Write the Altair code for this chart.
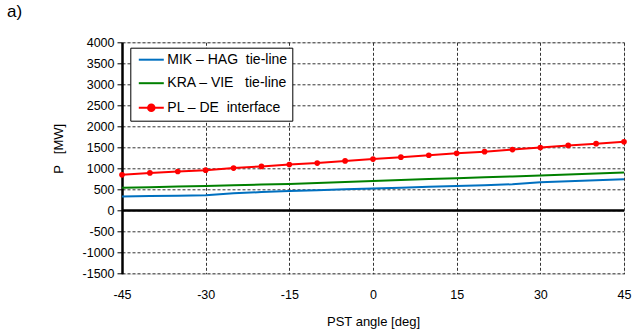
import altair as alt
import pandas as pd

angles = [-45, -40, -35, -30, -25, -20, -15, -10, -5, 0, 5, 10, 15, 20, 25, 30, 35, 40, 45]
mik_hag = [333, 345, 355, 366, 413, 440, 468, 486, 505, 523, 545, 566, 587, 605, 625, 675, 700, 723, 746]
kra_vie = [540, 555, 570, 587, 603, 618, 634, 658, 682, 706, 727, 749, 770, 791, 811, 832, 856, 880, 903]
pl_de = [850, 895, 930, 960, 1010, 1050, 1095, 1130, 1180, 1225, 1270, 1315, 1360, 1400, 1450, 1500, 1550, 1590, 1635]

series_names = ["MIK \u2013 HAG\u00a0 tie-line", "KRA \u2013 VIE\u00a0\u00a0 tie-line", "PL \u2013 DE\u00a0 interface"]
series_colors = ["#0070C0", "#008000", "#FF0000"]
x_ticks = [-45, -30, -15, 0, 15, 30, 45]
y_ticks = [-1500, -1000, -500, 0, 500, 1000, 1500, 2000, 2500, 3000, 3500, 4000]

rows = []
for name, vals in zip(series_names, [mik_hag, kra_vie, pl_de]):
    for a, v in zip(angles, vals):
        rows.append({"angle": a, "P": v, "series": name})
df = pd.DataFrame(rows)
df_red = df[df["series"] == series_names[2]]
zero_df = pd.DataFrame({"angle": [-45, 45], "P": [0, 0]})

FONT = "Liberation Sans"

xenc = alt.X("angle:Q",
             scale=alt.Scale(domain=[-45, 45], nice=False, zero=False),
             axis=alt.Axis(values=x_ticks, title="PST angle [deg]", grid=True,
                           gridDash=[3, 2], gridColor="#333333", gridWidth=1,
                           domain=False, ticks=False, labelPadding=15,
                           labelFlush=False, labelOverlap=False,
                           labelExpr="datum.value + ''",
                           labelFont=FONT, labelFontSize=12.5, labelColor="black",
                           titleFont=FONT, titleFontSize=13, titleFontWeight="normal",
                           titleColor="black", titleY=52, titleBaseline="alphabetic"))
yenc = alt.Y("P:Q",
             scale=alt.Scale(domain=[-1500, 4000], nice=False, zero=False),
             axis=alt.Axis(values=y_ticks, title="P\u00a0\u00a0 [MW]", grid=True,
                           gridDash=[3, 2], gridColor="#333333", gridWidth=1,
                           domain=True, domainColor="black", domainWidth=2.5,
                           ticks=True, tickSize=5, tickColor="black", tickWidth=1,
                           labelPadding=3, labelFlush=False, labelOverlap=False,
                           labelExpr="datum.value + ''",
                           labelFont=FONT, labelFontSize=12.5,
                           labelColor="black", titleFont=FONT, titleFontSize=13,
                           titleFontWeight="normal", titleColor="black",
                           titleX=-64, titleY=106, titleAngle=270,
                           titleBaseline="middle", titleAlign="center"))

line_path = "M-2.5,0H2.5"
dot_path = "M-2.5,0H2.5M-0.65,0A0.65,0.65,0,1,0,0.65,0A0.65,0.65,0,1,0,-0.65,0Z"

legend = alt.Legend(
    title=None, orient="none", legendX=8.3, legendY=5.4, direction="vertical",
    fillColor="white", strokeColor="black", padding=5, rowPadding=9.5,
    labelFont=FONT, labelFontSize=14, labelColor="black",
    labelExpr="datum.label + '\u00a0\u00a0\u00a0'",
    symbolSize=100, symbolStrokeWidth=2, symbolOpacity=1,
    symbolOffset=9, labelOffset=9,
)

color_scale = alt.Scale(domain=series_names, range=series_colors)
shape_scale = alt.Scale(domain=series_names, range=[line_path, line_path, dot_path])

zero_rule = alt.Chart(zero_df).mark_line(color="black", strokeWidth=2.5).encode(x=xenc, y=yenc)

lines = alt.Chart(df).mark_line(strokeWidth=2).encode(
    x=xenc, y=yenc,
    color=alt.Color("series:N", scale=color_scale, sort=series_names, legend=legend),
)

legend_keys = alt.Chart(df).mark_point(filled=True, strokeWidth=2).encode(
    x=xenc, y=yenc,
    color=alt.Color("series:N", scale=color_scale, sort=series_names, legend=legend),
    shape=alt.Shape("series:N", scale=shape_scale, sort=series_names, legend=legend),
    opacity=alt.condition("false", alt.value(1), alt.value(0)),
)

points = alt.Chart(df_red).mark_circle(size=32, color="#FF0000", opacity=1).encode(
    x=xenc, y=yenc
)

chart = alt.layer(zero_rule, lines, legend_keys, points).properties(
    width=502, height=231.4,
    title=alt.TitleParams("a)", anchor="start", frame="group", dx=-115, offset=2,
                          font=FONT, fontSize=17, fontWeight="normal", color="black",
                          baseline="alphabetic"),
    autosize=alt.AutoSizeParams(type="none"),
    padding={"left": 122, "top": 42.3, "right": 8, "bottom": 55.3},
).configure_view(stroke=None).configure(background="white")

chart.save("out.html", embed_options={"renderer": "svg", "actions": False})
